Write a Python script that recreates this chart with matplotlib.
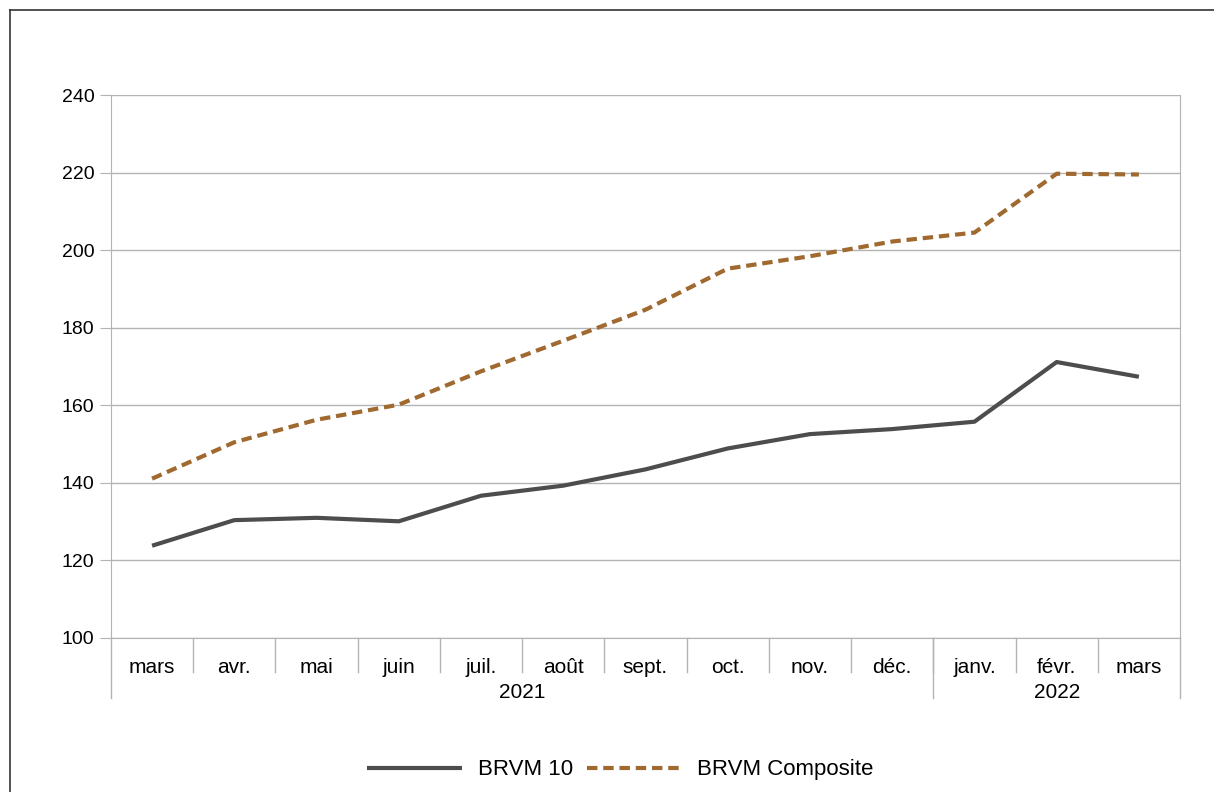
import matplotlib
matplotlib.use("Agg")
import matplotlib.pyplot as plt
from matplotlib.lines import Line2D

plt.rcParams['font.family'] = ['Liberation Sans', 'DejaVu Sans']

# monthly index values, mars 2021 -> mars 2022
months = ['mars', 'avr.', 'mai', 'juin', 'juil.', 'août', 'sept.',
          'oct.', 'nov.', 'déc.', 'janv.', 'févr.', 'mars']
years = ['2021', '2022']
year_counts = [10, 3]
brvm10 = [123.7, 130.3, 130.9, 130.0, 136.6, 139.2, 143.4,
          148.8, 152.5, 153.8, 155.7, 171.1, 167.3]
brvm_comp = [141.0, 150.4, 156.2, 160.1, 168.7, 176.6, 184.6,
             195.2, 198.4, 202.2, 204.5, 219.7, 219.5]

grid_col = '#b3b3b3'

fig = plt.figure(figsize=(12.14, 7.92), dpi=100)
ax = fig.add_axes([0.0914, 0.195, 0.8806, 0.685])

x = list(range(len(months)))
ax.plot(x, brvm10, color='#4d4d4d', lw=3, label='BRVM 10', solid_capstyle='butt')
ax.plot(x, brvm_comp, color='#a0692f', lw=3, dashes=(2.5, 1.4), label='BRVM Composite')

ax.set_xlim(-0.5, len(months) - 0.5)
ax.set_ylim(100, 240)
ax.set_yticks(range(100, 241, 20))
ax.yaxis.grid(True, color=grid_col, lw=1)
ax.set_axisbelow(True)
ax.tick_params(axis='y', length=8, color=grid_col, labelsize=14, pad=4)

ax.spines['top'].set_visible(False)
for s in ['left', 'right', 'bottom']:
    ax.spines[s].set_color(grid_col)

# category axis drawn by hand: month labels, separators, year groups
ax.set_xticks([])
trans = ax.get_xaxis_transform()
for i, m in enumerate(months):
    ax.text(i, -0.055, m, transform=trans, ha='center', va='center', fontsize=15)
for i in range(1, len(months)):
    ax.plot([i - 0.5, i - 0.5], [0, -0.064], transform=trans, color=grid_col,
            lw=1, clip_on=False)
start = 0
bounds = [-0.5]
for y, n in zip(years, year_counts):
    ax.text(start + (n - 1) / 2, -0.101, y, transform=trans, ha='center',
            va='center', fontsize=15)
    start += n
    bounds.append(start - 0.5)
for b in bounds:
    ax.plot([b, b], [0, -0.112], transform=trans, color=grid_col, lw=1,
            clip_on=False)

fig.legend(loc='center', bbox_to_anchor=(0.511, 0.028), ncol=2, frameon=False,
           fontsize=16, handlelength=4.3, handletextpad=0.68, columnspacing=0.63)

# outer frame (left and top edges only visible)
fig.add_artist(Line2D([10 / 1214, 10 / 1214], [0, 1 - 10 / 792], color='#333333', lw=1.2))
fig.add_artist(Line2D([10 / 1214, 1], [1 - 10 / 792, 1 - 10 / 792], color='#333333', lw=1.2))

fig.savefig('out.png', dpi=100)
